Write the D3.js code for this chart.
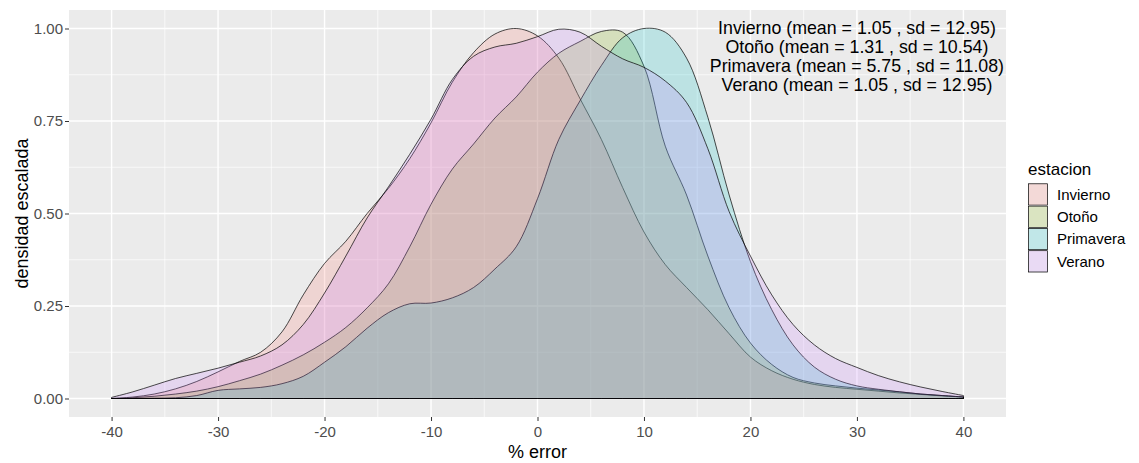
<!DOCTYPE html>
<html>
<head>
<meta charset="utf-8">
<script src="https://cdn.jsdelivr.net/npm/d3@7"></script>
<style>
  body { margin: 0; background: #fff; }
  text { font-family: "Liberation Sans", Arial, sans-serif; }
</style>
</head>
<body>
<div id="chart"></div>
<script>
// % error grid the densities were read on
const errorGrid = [-40, -38, -36, -34, -32, -30, -28, -26, -24, -22, -20, -18, -16, -14, -12, -10, -8, -6, -4, -2,
  0, 2, 4, 6, 8, 10, 12, 14, 16, 18, 20, 22, 24, 26, 28, 30, 32, 34, 36, 38, 40];

// scaled density per season
const invierno = [0.000, 0.004, 0.012, 0.026, 0.046, 0.072, 0.100, 0.125, 0.180, 0.280, 0.365, 0.425, 0.500, 0.568, 0.648, 0.745, 0.855, 0.935, 0.985, 1.000,
  0.980, 0.920, 0.810, 0.700, 0.570, 0.450, 0.362, 0.300, 0.240, 0.175, 0.112, 0.075, 0.052, 0.038, 0.030, 0.025, 0.020, 0.015, 0.011, 0.007, 0.004];
const otono = [0.000, 0.002, 0.006, 0.012, 0.020, 0.032, 0.048, 0.066, 0.090, 0.118, 0.152, 0.192, 0.245, 0.310, 0.410, 0.525, 0.620, 0.688, 0.758, 0.815,
  0.882, 0.933, 0.965, 0.992, 0.990, 0.898, 0.682, 0.550, 0.385, 0.245, 0.150, 0.092, 0.057, 0.042, 0.034, 0.028, 0.023, 0.018, 0.012, 0.008, 0.004];
const primavera = [0.000, 0.000, 0.001, 0.002, 0.008, 0.022, 0.026, 0.030, 0.040, 0.060, 0.098, 0.140, 0.190, 0.232, 0.256, 0.258, 0.272, 0.300, 0.350, 0.410,
  0.540, 0.700, 0.805, 0.900, 0.975, 1.000, 0.990, 0.920, 0.760, 0.550, 0.370, 0.240, 0.145, 0.085, 0.052, 0.034, 0.025, 0.018, 0.012, 0.008, 0.004];
const verano = [0.003, 0.018, 0.036, 0.054, 0.068, 0.082, 0.098, 0.115, 0.145, 0.200, 0.285, 0.385, 0.488, 0.572, 0.660, 0.755, 0.862, 0.925, 0.950, 0.960,
  0.978, 0.998, 0.990, 0.952, 0.918, 0.895, 0.858, 0.800, 0.675, 0.505, 0.385, 0.280, 0.200, 0.145, 0.108, 0.084, 0.062, 0.045, 0.031, 0.019, 0.008];

const seasons = ["Invierno", "Otoño", "Primavera", "Verano"];
const seasonColors = ["#F8766D", "#7CAE00", "#00BFC4", "#C77CFF"];
const xTicks = [-40, -30, -20, -10, 0, 10, 20, 30, 40];
const xMinor = [-35, -25, -15, -5, 5, 15, 25, 35];
const yTicks = [0, 0.25, 0.5, 0.75, 1];
const yMinor = [0.125, 0.375, 0.625, 0.875];
const statsLines = [
  "Invierno (mean = 1.05 , sd = 12.95)",
  "Otoño (mean = 1.31 , sd = 10.54)",
  "Primavera (mean = 5.75 , sd = 11.08)",
  "Verano (mean = 1.05 , sd = 12.95)"
];
const statsAt = { x: 30, y: 0.925 };

const margin = { top: 10, right: 133, bottom: 46, left: 69 },
  width = 1139 - margin.left - margin.right,
  height = 463 - margin.top - margin.bottom;

const svgRoot = d3.select("#chart")
  .append("svg")
  .attr("width", 1139)
  .attr("height", 463);

const svg = svgRoot.append("g")
  .attr("transform", `translate(${margin.left},${margin.top})`);

const x = d3.scaleLinear().domain([-44, 44]).range([0, width]);
const y = d3.scaleLinear().domain([-0.05, 1.05]).range([height, 0]);
const color = d3.scaleOrdinal().domain(seasons).range(seasonColors);

// panel + grid
svg.append("rect").attr("width", width).attr("height", height).attr("fill", "#EBEBEB");
svg.append("g").selectAll("line").data(xMinor).join("line")
  .attr("x1", d => x(d)).attr("x2", d => x(d)).attr("y1", 0).attr("y2", height)
  .attr("stroke", "#fff").attr("stroke-width", 0.7);
svg.append("g").selectAll("line").data(yMinor).join("line")
  .attr("y1", d => y(d)).attr("y2", d => y(d)).attr("x1", 0).attr("x2", width)
  .attr("stroke", "#fff").attr("stroke-width", 0.7);
svg.append("g").selectAll("line").data(xTicks).join("line")
  .attr("x1", d => x(d)).attr("x2", d => x(d)).attr("y1", 0).attr("y2", height)
  .attr("stroke", "#fff").attr("stroke-width", 1.4);
svg.append("g").selectAll("line").data(yTicks).join("line")
  .attr("y1", d => y(d)).attr("y2", d => y(d)).attr("x1", 0).attr("x2", width)
  .attr("stroke", "#fff").attr("stroke-width", 1.4);

// densities
const series = [
  { key: "Invierno", values: invierno },
  { key: "Otoño", values: otono },
  { key: "Primavera", values: primavera },
  { key: "Verano", values: verano }
];

const area = d3.area()
  .x((d, i) => x(errorGrid[i]))
  .y0(y(0))
  .y1(d => y(d))
  .curve(d3.curveCatmullRom.alpha(0.5));

svg.append("g")
  .selectAll("path")
  .data(series)
  .join("path")
  .attr("d", d => area(d.values))
  .attr("fill", d => color(d.key))
  .attr("fill-opacity", 0.2)
  .attr("stroke", "#000")
  .attr("stroke-width", 0.7)
  .attr("stroke-linejoin", "round");

// stats annotation
svg.append("text")
  .attr("text-anchor", "middle")
  .attr("font-size", "17.8px")
  .attr("fill", "#000")
  .selectAll("tspan")
  .data(statsLines)
  .join("tspan")
  .attr("x", x(statsAt.x))
  .attr("y", (d, i) => y(statsAt.y) + (i - 1.5) * 19 + 6)
  .text(d => d);

// axes
const xAxis = svg.append("g")
  .attr("transform", `translate(0,${height})`)
  .call(d3.axisBottom(x).tickValues(xTicks).tickSize(4).tickPadding(5.5).tickFormat(d3.format("d")));
const yAxis = svg.append("g")
  .call(d3.axisLeft(y).tickValues(yTicks).tickSize(4).tickPadding(2).tickFormat(d3.format(".2f")));

[xAxis, yAxis].forEach(a => {
  a.select(".domain").remove();
  a.selectAll("line").attr("stroke", "#333");
  a.selectAll("text").attr("fill", "#4D4D4D").style("font-size", "15px")
    .style("font-family", "'Liberation Sans', Arial, sans-serif");
});
xAxis.selectAll("text").text(d => d < 0 ? "-" + Math.abs(d) : d);

svg.append("text")
  .attr("x", width / 2)
  .attr("y", height + 41)
  .attr("text-anchor", "middle")
  .attr("font-size", "18px")
  .text("% error");

svg.append("text")
  .attr("transform", "rotate(-90)")
  .attr("x", -height / 2)
  .attr("y", 28 - margin.left)
  .attr("text-anchor", "middle")
  .attr("font-size", "18px")
  .text("densidad escalada");

// legend
const legend = svgRoot.append("g").attr("transform", "translate(1028,0)");
legend.append("text").attr("x", 0).attr("y", 175).attr("font-size", "17px").text("estacion");
const keyH = 22.3;
const keys = legend.selectAll("g.key").data(seasons).join("g")
  .attr("class", "key")
  .attr("transform", (d, i) => `translate(0,${183.3 + i * keyH})`);
keys.append("rect").attr("width", 20).attr("height", keyH).attr("fill", "#F2F2F2");
keys.append("rect")
  .attr("x", 0.5).attr("y", 0.5).attr("width", 19).attr("height", keyH - 1)
  .attr("fill", d => color(d)).attr("fill-opacity", 0.2)
  .attr("stroke", "#000").attr("stroke-width", 0.7);
keys.append("text")
  .attr("x", 29).attr("y", keyH / 2).attr("dy", "0.35em")
  .attr("font-size", "15px")
  .text(d => d);
</script>
</body>
</html>
